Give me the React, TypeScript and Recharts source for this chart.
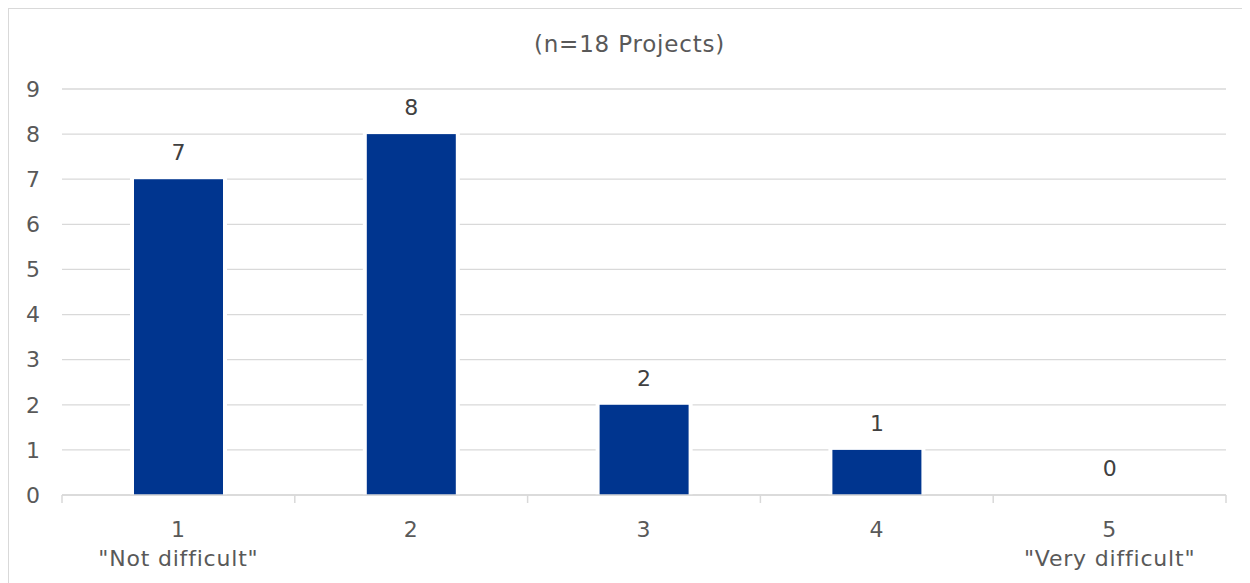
import { Bar, BarChart, CartesianGrid, LabelList, XAxis, YAxis } from "recharts";

const scores = ["1", "2", "3", "4", "5"];
const scoreNotes = ['"Not difficult"', "", "", "", '"Very difficult"'];
const projectCounts = [7, 8, 2, 1, 0];
const countTicks = [0, 1, 2, 3, 4, 5, 6, 7, 8, 9];

const data = scores.map((score, i) => ({
  score,
  note: scoreNotes[i],
  count: projectCounts[i],
}));

const FONT = "'DejaVu Sans', Verdana, sans-serif";
const GRID = "#d9d9d9";
const BLUE = "#00358f";
const TEXT = "#595959";

// bar with a white halo so the gridlines stop short of it
const HaloBar = (props: any) => {
  const { x, y, width, height } = props;
  if (!height) return null;
  return (
    <g>
      <rect x={x - 4} y={y - 4} width={width + 8} height={height + 4} fill="#ffffff" />
      <rect x={x} y={y} width={width} height={height} fill={BLUE} />
    </g>
  );
};

// two-line category label, plus the short marks between categories
const ScoreTick = (props: any) => {
  const { x, y, index, width, visibleTicksCount } = props;
  const half = width / visibleTicksCount / 2;
  const last = index === visibleTicksCount - 1;
  return (
    <g>
      <line x1={x - half} x2={x - half} y1={y} y2={y + 8} stroke={GRID} strokeWidth={1.5} />
      {last && (
        <line x1={x + half} x2={x + half} y1={y} y2={y + 8} stroke={GRID} strokeWidth={1.5} />
      )}
      <text
        x={x}
        y={y}
        textAnchor="middle"
        fill={TEXT}
        fontSize={22}
        fontFamily={FONT}
        letterSpacing={0.8}
      >
        <tspan x={x} dy={42}>{scores[index]}</tspan>
        <tspan x={x} dy={29}>{scoreNotes[index]}</tspan>
      </text>
    </g>
  );
};

const App = () => {
  return (
    <div
      style={{
        position: "relative",
        marginLeft: -1,
        marginTop: -1,
        width: 1243,
        height: 576,
        boxSizing: "border-box",
        borderTop: `2px solid ${GRID}`,
        borderLeft: `2px solid ${GRID}`,
        overflow: "hidden",
        background: "#ffffff",
      }}
    >
      <div
        style={{
          position: "absolute",
          top: 24,
          left: 0,
          width: 1241,
          textAlign: "center",
          fontFamily: FONT,
          fontSize: 23,
          lineHeight: "23px",
          letterSpacing: 0.8,
          color: TEXT,
        }}
      >
        (n=18 Projects)
      </div>
      <BarChart
        width={1241}
        height={574}
        data={data}
        margin={{ top: 80, right: 24, left: 0, bottom: 0 }}
      >
        <CartesianGrid vertical={false} stroke={GRID} strokeWidth={1.3} />
        <XAxis
          dataKey="score"
          height={88}
          axisLine={{ stroke: GRID, strokeWidth: 1.5 }}
          tickLine={false}
          tickSize={0}
          tickMargin={0}
          tick={<ScoreTick />}
          interval={0}
        />
        <YAxis
          domain={[0, 9]}
          ticks={countTicks}
          width={53}
          axisLine={false}
          tickLine={false}
          tickMargin={16}
          tick={{ fill: TEXT, fontSize: 22, fontFamily: FONT }}
        />
        <Bar dataKey="count" barSize={89} shape={<HaloBar />} isAnimationActive={false}>
          <LabelList
            dataKey="count"
            position="top"
            offset={19}
            fill="#404040"
            fontSize={22}
            fontFamily={FONT}
          />
        </Bar>
      </BarChart>
    </div>
  );
};

export default App;
